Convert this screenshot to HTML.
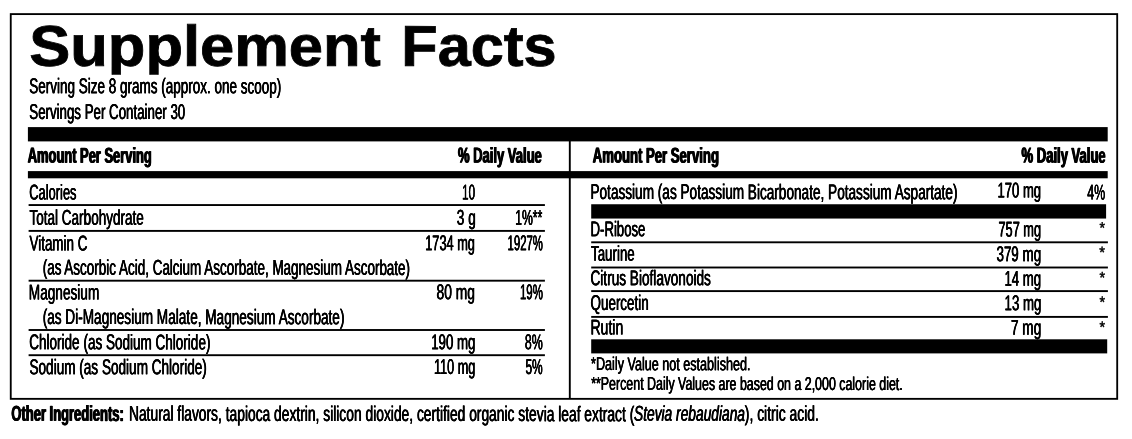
<!DOCTYPE html>
<html lang="en"><head><meta charset="utf-8"><title>Supplement Facts</title><style>
html,body{margin:0;padding:0;background:#fff;}
body{width:1132px;height:439px;position:relative;overflow:hidden;font-family:"Liberation Sans",sans-serif;color:#000;}
.g{position:absolute;left:0;top:0;}
.t{overflow:hidden;}
.x{position:absolute;left:0;top:0;white-space:nowrap;transform-origin:0 0;line-height:1em;color:#000;}
.a{font-size:15.5px;font-weight:400;font-style:normal;-webkit-text-stroke:0.5px #000;}
.r{font-size:21.4px;font-weight:400;font-style:normal;-webkit-text-stroke:0.15px #000;text-shadow:0.4px 0 0 #000,-0.4px 0 0 #000;}
.b{font-size:21.6px;font-weight:700;font-style:normal;-webkit-text-stroke:0.3px #000;text-shadow:0.8px 0 0 #000,-0.8px 0 0 #000;}
.t{font-size:57.4px;font-weight:700;font-style:normal;-webkit-text-stroke:0.8px #000;}
.s{font-size:18.6px;font-weight:400;font-style:normal;-webkit-text-stroke:0.15px #000;text-shadow:0.35px 0 0 #000,-0.35px 0 0 #000;}
.o{font-size:21.4px;font-weight:400;font-style:normal;-webkit-text-stroke:0.15px #000;text-shadow:0.4px 0 0 #000,-0.4px 0 0 #000;}
.ob{font-size:21.6px;font-weight:700;font-style:normal;-webkit-text-stroke:0.3px #000;text-shadow:0.8px 0 0 #000,-0.8px 0 0 #000;}
.oi{font-size:21.4px;font-weight:400;font-style:italic;-webkit-text-stroke:0.15px #000;text-shadow:0.4px 0 0 #000,-0.4px 0 0 #000;}
</style></head><body>
<svg class="g" width="1132" height="439" viewBox="0 0 1132 439"><rect x="10.75" y="14.1" width="1106.45" height="384.75" fill="none" stroke="#000" stroke-width="1.85"/><rect x="27.9" y="127.1" width="1079.80" height="14.30" fill="#000"/><rect x="27.9" y="171.1" width="1079.80" height="7.20" fill="#000"/><rect x="591.2" y="204.25" width="514.90" height="14.30" fill="#000"/><rect x="591.2" y="339.3" width="516.00" height="14.10" fill="#000"/><rect x="568.85" y="140" width="1.9" height="258" fill="#000"/><rect x="28.6" y="204.10" width="516.3" height="1.9" fill="#000"/><rect x="28.6" y="229.95" width="516.3" height="1.9" fill="#000"/><rect x="28.6" y="279.75" width="516.3" height="1.9" fill="#000"/><rect x="28.6" y="329.05" width="516.3" height="1.9" fill="#000"/><rect x="28.6" y="354.25" width="516.3" height="1.9" fill="#000"/><rect x="591.2" y="241.35" width="516.7" height="1.9" fill="#000"/><rect x="591.2" y="266.55" width="516.7" height="1.9" fill="#000"/><rect x="591.2" y="290.15" width="516.7" height="1.9" fill="#000"/><rect x="591.2" y="315.95" width="516.7" height="1.9" fill="#000"/></svg>
<div class="x t" style="height:57.10px;transform:translate(29.32px,17.70px) scaleX(1.0710) rotate(0.03deg)">Supplement</div>
<div class="x t" style="height:57.10px;transform:translate(401.39px,17.70px) scaleX(1.0352) rotate(0.03deg)">Facts</div>
<div class="x r" style="transform:translate(29.30px,76.20px) scaleX(0.6304) rotate(0.03deg)">Serving Size 8 grams (approx. one scoop)</div>
<div class="x r" style="transform:translate(29.29px,102.00px) scaleX(0.6216) rotate(0.03deg)">Servings Per Container 30</div>
<div class="x b" style="transform:translate(27.77px,144.60px) scaleX(0.5973) rotate(0.03deg)">Amount Per Serving</div>
<div class="x b" style="transform:translate(457.97px,144.60px) scaleX(0.6023) rotate(0.03deg)">% Daily Value</div>
<div class="x b" style="transform:translate(592.79px,144.60px) scaleX(0.6076) rotate(0.03deg)">Amount Per Serving</div>
<div class="x b" style="transform:translate(1021.57px,144.60px) scaleX(0.6037) rotate(0.03deg)">% Daily Value</div>
<div class="x r" style="transform:translate(29.30px,182.40px) scaleX(0.6020) rotate(0.03deg)">Calories</div>
<div class="x r" style="transform:translate(462.12px,182.40px) scaleX(0.5460) rotate(0.03deg)">10</div>
<div class="x r" style="transform:translate(29.50px,207.70px) scaleX(0.6324) rotate(0.03deg)">Total Carbohydrate</div>
<div class="x r" style="transform:translate(456.86px,207.70px) scaleX(0.6334) rotate(0.03deg)">3 g</div>
<div class="x r" style="transform:translate(515.15px,207.70px) scaleX(0.5726) rotate(0.03deg)">1%**</div>
<div class="x r" style="transform:translate(29.49px,233.40px) scaleX(0.6270) rotate(0.03deg)">Vitamin C</div>
<div class="x r" style="transform:translate(425.22px,233.20px) scaleX(0.5964) rotate(0.03deg)">1734 mg</div>
<div class="x r" style="transform:translate(507.57px,233.20px) scaleX(0.5305) rotate(0.03deg)">1927%</div>
<div class="x r" style="transform:translate(42.67px,257.60px) scaleX(0.6294) rotate(0.03deg)">(as Ascorbic Acid, Calcium Ascorbate, Magnesium Ascorbate)</div>
<div class="x r" style="transform:translate(28.87px,282.50px) scaleX(0.6363) rotate(0.03deg)">Magnesium</div>
<div class="x r" style="transform:translate(436.50px,282.20px) scaleX(0.6453) rotate(0.03deg)">80 mg</div>
<div class="x r" style="transform:translate(519.97px,282.20px) scaleX(0.5353) rotate(0.03deg)">19%</div>
<div class="x r" style="transform:translate(42.67px,307.00px) scaleX(0.6362) rotate(0.03deg)">(as Di-Magnesium Malate, Magnesium Ascorbate)</div>
<div class="x r" style="transform:translate(29.26px,332.30px) scaleX(0.6323) rotate(0.03deg)">Chloride (as Sodium Chloride)</div>
<div class="x r" style="transform:translate(431.17px,332.30px) scaleX(0.6202) rotate(0.03deg)">190 mg</div>
<div class="x r" style="transform:translate(524.87px,332.30px) scaleX(0.5798) rotate(0.03deg)">8%</div>
<div class="x r" style="transform:translate(29.50px,357.20px) scaleX(0.6346) rotate(0.03deg)">Sodium (as Sodium Chloride)</div>
<div class="x r" style="transform:translate(433.92px,357.00px) scaleX(0.5946) rotate(0.03deg)">110 mg</div>
<div class="x r" style="transform:translate(525.45px,357.00px) scaleX(0.5590) rotate(0.03deg)">5%</div>
<div class="x r" style="transform:translate(590.47px,182.00px) scaleX(0.6365) rotate(0.03deg)">Potassium (as Potassium Bicarbonate, Potassium Aspartate)</div>
<div class="x r" style="transform:translate(997.51px,180.40px) scaleX(0.6096) rotate(0.03deg)">170 mg</div>
<div class="x r" style="transform:translate(1087.27px,182.60px) scaleX(0.5778) rotate(0.03deg)">4%</div>
<div class="x r" style="transform:translate(590.48px,219.20px) scaleX(0.6165) rotate(0.03deg)">D-Ribose</div>
<div class="x r" style="transform:translate(998.49px,219.40px) scaleX(0.5955) rotate(0.03deg)">757 mg</div>
<div class="x r" style="transform:translate(591.10px,243.80px) scaleX(0.6210) rotate(0.03deg)">Taurine</div>
<div class="x r" style="transform:translate(996.49px,244.20px) scaleX(0.6249) rotate(0.03deg)">379 mg</div>
<div class="x r" style="transform:translate(590.50px,268.20px) scaleX(0.6371) rotate(0.03deg)">Citrus Bioflavonoids</div>
<div class="x r" style="transform:translate(1004.48px,268.80px) scaleX(0.6170) rotate(0.03deg)">14 mg</div>
<div class="x r" style="transform:translate(590.57px,292.90px) scaleX(0.6265) rotate(0.03deg)">Quercetin</div>
<div class="x r" style="transform:translate(1004.59px,293.20px) scaleX(0.6169) rotate(0.03deg)">13 mg</div>
<div class="x r" style="transform:translate(590.46px,317.60px) scaleX(0.6569) rotate(0.03deg)">Rutin</div>
<div class="x r" style="transform:translate(1011.07px,317.80px) scaleX(0.6336) rotate(0.03deg)">7 mg</div>
<div class="x s" style="transform:translate(591.09px,355.10px) scaleX(0.6774) rotate(0.03deg)">*Daily Value not established.</div>
<div class="x s" style="transform:translate(591.18px,374.80px) scaleX(0.6673) rotate(0.03deg)">**Percent Daily Values are based on a 2,000 calorie diet.</div>
<div class="x a" style="transform:translate(1099.51px,220.05px) scaleX(0.9104) rotate(0.03deg)">*</div>
<div class="x a" style="transform:translate(1099.34px,244.55px) scaleX(0.9386) rotate(0.03deg)">*</div>
<div class="x a" style="transform:translate(1099.46px,269.65px) scaleX(0.9190) rotate(0.03deg)">*</div>
<div class="x a" style="transform:translate(1099.44px,294.25px) scaleX(0.9216) rotate(0.03deg)">*</div>
<div class="x a" style="transform:translate(1099.44px,319.25px) scaleX(0.9216) rotate(0.03deg)">*</div>
<div class="x ob" style="transform:translate(11.37px,402.80px) scaleX(0.6009) rotate(0.03deg)">Other Ingredients:</div>
<div class="x o" style="transform:translate(128.96px,403.80px) scaleX(0.6459) rotate(0.03deg)">Natural flavors, tapioca dextrin, silicon dioxide, certified organic stevia leaf extract (</div>
<div class="x oi" style="transform:translate(634.00px,403.80px) scaleX(0.6437) rotate(0.03deg)">Stevia rebaudiana</div>
<div class="x o" style="transform:translate(744.81px,403.80px) scaleX(0.6498) rotate(0.03deg)">), citric acid.</div>
</body></html>
